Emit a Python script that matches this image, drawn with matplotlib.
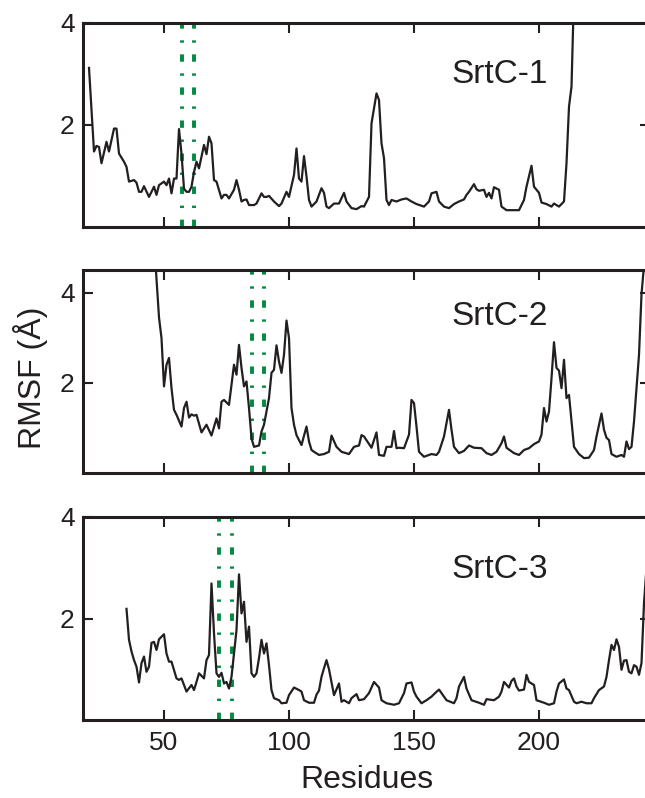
import matplotlib
matplotlib.use("Agg")
import matplotlib.pyplot as plt

plt.rcParams['font.family'] = ['Liberation Sans', 'DejaVu Sans']
plt.rcParams['lines.scale_dashes'] = False

# RMSF por resíduo
res1 = [20, 22, 23, 24, 25, 27, 28, 30, 31, 32, 34, 35, 36, 38, 39, 40, 41, 42, 44, 46,
        47, 48, 50, 51, 52, 53, 54, 55, 56, 57, 58, 59, 60, 61, 62, 63, 64, 66, 67, 68,
        69, 70, 71, 73, 74, 75, 76, 78, 79, 80, 81, 82, 83, 84, 86, 87, 89, 90, 91, 92,
        94, 96, 97, 99, 100, 102, 103, 104, 105, 106, 107, 108, 109, 111, 113, 114, 115, 116, 118, 120,
        122, 123, 125, 127, 129, 130, 132, 133, 135, 136, 137, 138, 139, 140, 141, 143, 145, 147, 149, 151,
        154, 156, 157, 159, 160, 162, 164, 166, 168, 170, 171, 172, 174, 175, 176, 178, 179, 180, 181, 182,
        184, 185, 187, 190, 192, 194, 195, 197, 198, 200, 201, 203, 205, 206, 208, 210, 211, 212, 213, 214,
        215]
rmsf1 = [3.12, 1.48, 1.59, 1.57, 1.25, 1.67, 1.48, 1.93, 1.93, 1.44, 1.28, 1.18, 0.89, 0.92, 0.87, 0.69, 0.69, 0.80, 0.59, 0.79,
         0.63, 0.82, 0.89, 0.82, 0.95, 0.66, 0.95, 0.95, 1.92, 1.44, 0.75, 0.69, 0.69, 0.79, 1.08, 1.28, 1.15, 1.61, 1.43, 1.77,
         1.64, 0.92, 0.89, 0.56, 0.63, 0.63, 0.56, 0.73, 0.92, 0.73, 0.50, 0.53, 0.54, 0.43, 0.43, 0.46, 0.66, 0.59, 0.59, 0.61,
         0.50, 0.41, 0.46, 0.69, 0.59, 1.02, 1.54, 0.95, 0.89, 1.39, 0.99, 0.53, 0.40, 0.50, 0.76, 0.67, 0.40, 0.37, 0.46, 0.46,
         0.67, 0.50, 0.37, 0.35, 0.41, 0.40, 0.59, 2.03, 2.62, 2.49, 1.64, 1.35, 0.53, 0.43, 0.53, 0.50, 0.54, 0.56, 0.50, 0.45,
         0.40, 0.50, 0.66, 0.69, 0.50, 0.40, 0.37, 0.45, 0.50, 0.54, 0.63, 0.69, 0.84, 0.74, 0.71, 0.73, 0.59, 0.67, 0.56, 0.78,
         0.73, 0.40, 0.33, 0.33, 0.33, 0.53, 0.79, 1.20, 0.79, 0.67, 0.48, 0.45, 0.40, 0.46, 0.40, 0.50, 1.25, 2.36, 2.75, 4.60,
         5.20]

res2 = [46, 47, 48, 49, 50, 51, 52, 53, 54, 55, 57, 58, 59, 60, 61, 62, 63, 65, 67, 69,
        71, 72, 73, 74, 76, 78, 79, 80, 81, 82, 83, 84, 85, 86, 88, 89, 90, 92, 93, 94,
        95, 96, 97, 98, 99, 100, 101, 102, 103, 105, 107, 108, 109, 110, 112, 114, 116, 117, 119, 121,
        124, 126, 128, 129, 130, 133, 135, 136, 138, 139, 141, 142, 143, 144, 146, 148, 149, 150, 151, 152,
        154, 157, 159, 160, 162, 164, 165, 166, 168, 170, 172, 174, 177, 179, 181, 183, 185, 186, 187, 190,
        192, 194, 196, 198, 200, 201, 202, 203, 204, 205, 206, 207, 208, 209, 210, 211, 212, 214, 216, 218,
        220, 222, 223, 225, 226, 227, 228, 229, 231, 233, 234, 235, 236, 237, 238, 240, 241, 242, 243]
rmsf2 = [5.20, 4.30, 3.45, 2.99, 1.92, 2.40, 2.55, 1.88, 1.40, 1.29, 1.03, 1.44, 1.58, 1.23, 1.30, 1.27, 1.29, 0.90, 1.07, 0.83,
         1.21, 0.99, 1.58, 1.62, 1.51, 2.40, 2.18, 2.84, 2.33, 1.92, 2.03, 1.44, 0.77, 0.58, 0.61, 0.92, 1.07, 1.66, 2.22, 2.29,
         2.83, 2.47, 2.22, 2.62, 3.38, 2.99, 1.44, 1.07, 0.84, 0.62, 1.03, 0.70, 0.51, 0.47, 0.40, 0.42, 0.47, 0.83, 0.58, 0.47,
         0.42, 0.58, 0.61, 0.84, 0.81, 0.56, 0.90, 0.40, 0.38, 0.58, 0.58, 0.93, 0.55, 0.56, 0.55, 0.85, 1.62, 1.55, 1.03, 0.47,
         0.36, 0.42, 0.40, 0.47, 0.81, 1.40, 0.96, 0.58, 0.44, 0.49, 0.61, 0.56, 0.55, 0.44, 0.40, 0.47, 0.66, 0.81, 0.56, 0.44,
         0.40, 0.51, 0.55, 0.64, 0.70, 0.85, 1.44, 1.14, 1.36, 2.10, 2.90, 2.33, 2.27, 1.88, 2.51, 1.66, 1.73, 0.58, 0.42, 0.33,
         0.34, 0.51, 0.81, 1.32, 0.96, 0.78, 0.73, 0.42, 0.36, 0.40, 0.36, 0.70, 0.53, 0.58, 1.14, 2.62, 3.96, 4.60, 5.20]

res3 = [35, 36, 37, 38, 39, 40, 41, 42, 43, 44, 45, 46, 47, 48, 49, 50, 51, 52, 53, 55,
        56, 57, 59, 61, 62, 63, 64, 66, 67, 68, 69, 70, 71, 72, 73, 74, 75, 76, 77, 79,
        80, 81, 82, 83, 84, 85, 86, 87, 88, 89, 90, 91, 92, 93, 94, 96, 97, 99, 100, 102,
        104, 105, 106, 108, 110, 111, 112, 113, 114, 115, 116, 118, 120, 121, 122, 124, 125, 127, 128, 130,
        132, 134, 136, 137, 139, 142, 144, 146, 147, 149, 150, 151, 153, 155, 157, 158, 160, 161, 163, 166,
        167, 168, 170, 171, 173, 176, 178, 179, 182, 184, 185, 186, 188, 189, 190, 191, 192, 194, 195, 196,
        198, 199, 202, 204, 206, 207, 208, 210, 211, 212, 214, 215, 217, 219, 221, 222, 224, 226, 227, 228,
        229, 230, 231, 232, 233, 234, 235, 236, 237, 238, 239, 240, 241, 242, 243]
rmsf3 = [2.19, 1.58, 1.35, 1.18, 1.05, 0.74, 1.12, 1.25, 0.95, 1.05, 1.52, 1.54, 1.38, 1.59, 1.64, 1.69, 1.31, 1.15, 1.15, 0.82,
         0.79, 0.82, 0.56, 0.69, 0.59, 0.75, 0.92, 0.82, 1.18, 1.28, 2.69, 1.71, 0.92, 0.85, 0.93, 0.72, 0.75, 0.62, 0.85, 1.77,
         2.87, 2.10, 2.33, 1.54, 1.84, 0.92, 0.85, 0.92, 1.22, 1.58, 1.31, 1.51, 1.08, 0.59, 0.43, 0.39, 0.33, 0.34, 0.49, 0.64,
         0.59, 0.56, 0.39, 0.34, 0.34, 0.50, 0.58, 0.85, 1.02, 1.18, 1.00, 0.49, 0.72, 0.36, 0.39, 0.33, 0.43, 0.51, 0.39, 0.41,
         0.53, 0.75, 0.64, 0.39, 0.33, 0.30, 0.33, 0.53, 0.72, 0.74, 0.56, 0.46, 0.33, 0.39, 0.46, 0.51, 0.60, 0.53, 0.39, 0.33,
         0.43, 0.66, 0.85, 0.62, 0.39, 0.34, 0.30, 0.41, 0.39, 0.46, 0.56, 0.75, 0.64, 0.77, 0.82, 0.66, 0.58, 0.60, 0.89, 0.75,
         0.69, 0.39, 0.34, 0.30, 0.33, 0.56, 0.72, 0.80, 0.62, 0.59, 0.36, 0.33, 0.36, 0.33, 0.33, 0.43, 0.59, 0.66, 0.85, 1.18,
         1.48, 1.38, 1.59, 1.44, 0.99, 1.17, 1.18, 0.95, 0.92, 1.08, 1.05, 0.89, 1.12, 2.30, 3.00]

names = ["SrtC-1", "SrtC-2", "SrtC-3"]
marks = [(57, 62), (85, 90), (72, 77)]   # linhas verdes tracejadas
ymaxs = [4, 4.5, 4]
label_y = [2.82, 3.29, 2.79]
xticks = [50, 100, 150, 200]
yticks = [2, 4]

ink = '#231f20'
green = '#00893f'

fig = plt.figure(figsize=(6.45, 7.98), dpi=100)
left, width = 83 / 645, 567 / 645
boxes = [(1 - 227 / 798, 204 / 798), (1 - 473 / 798, 203 / 798), (1 - 720 / 798, 203 / 798)]

data = [(res1, rmsf1), (res2, rmsf2), (res3, rmsf3)]
axes = []
for i, (bottom, height) in enumerate(boxes):
    ax = fig.add_axes([left, bottom, width, height])
    for xm in marks[i]:
        ax.axvline(xm, color=green, lw=2.8, dashes=(5.3, 8.4, 1.7, 8.4))
    x, y = data[i]
    ax.plot(x, y, color=ink, lw=1.6)
    ax.set_xlim(17.6, 244.4)
    ax.set_ylim(0, ymaxs[i])
    ax.set_xticks(xticks)
    ax.set_yticks(yticks)
    ax.tick_params(direction='in', length=7, width=1.5, top=True, right=True,
                   colors=ink, labelsize=19, pad=6)
    ax.tick_params(axis='x', pad=8)
    if i < 2:
        ax.tick_params(labelbottom=False)
    for sp in ax.spines.values():
        sp.set_linewidth(2.2)
        sp.set_color(ink)
    ax.text(165, label_y[i], names[i], fontsize=24, color=ink, ha='left', va='baseline')
    axes.append(ax)

axes[2].set_xlabel("Residues", fontsize=23, color=ink, labelpad=7)
fig.text(30 / 645, 1 - 378 / 798, "RMSF (Å)", rotation=90, fontsize=23, color=ink,
         ha='center', va='center')

fig.savefig("out.png", dpi=100)
